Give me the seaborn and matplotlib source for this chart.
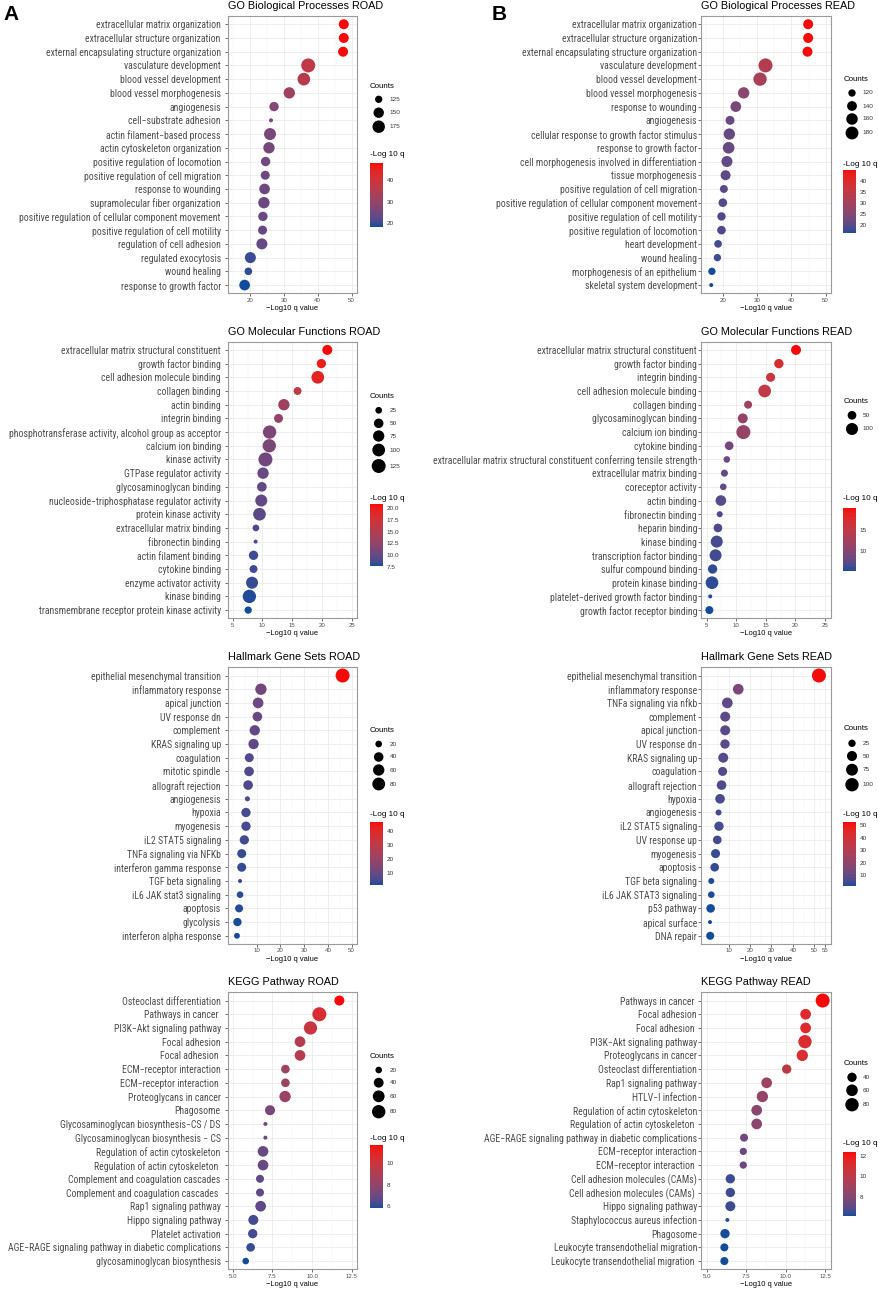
import os
import numpy as np
import pandas as pd
import matplotlib
matplotlib.use("Agg")
import matplotlib.pyplot as plt
import seaborn as sns
from matplotlib import font_manager as fm
from matplotlib.font_manager import FontProperties
from matplotlib.textpath import TextToPath
from matplotlib.colors import ListedColormap, Normalize, to_rgb
from matplotlib.cm import ScalarMappable

# ---------------------------------------------------------------- data
bp_road_terms = ["extracellular matrix organization", "extracellular structure organization",
                 "external encapsulating structure organization", "vasculature development",
                 "blood vessel development", "blood vessel morphogenesis", "angiogenesis",
                 "cell\u2212substrate adhesion", "actin filament\u2212based process",
                 "actin cytoskeleton organization", "positive regulation of locomotion",
                 "positive regulation of cell migration", "response to wounding",
                 "supramolecular fiber organization",
                 "positive regulation of cellular component movement",
                 "positive regulation of cell motility", "regulation of cell adhesion",
                 "regulated exocytosis", "wound healing", "response to growth factor"]
bp_road_q = [47.7, 47.7, 47.5, 37.2, 35.9, 31.6, 27.1, 26.2, 25.9, 25.6, 24.6, 24.5, 24.3,
             24.1, 23.8, 23.7, 23.5, 20.1, 19.5, 18.4]
bp_road_counts = [146, 146, 146, 199, 178, 161, 140, 116, 169, 161, 140, 137, 153, 161, 140,
                  137, 157, 157, 127, 153]
bp_road_breaks = [125, 150, 175]
bp_road_cticks = [20, 30, 40]
bp_road_xticks = [20, 30, 40, 50]

bp_read_terms = ["extracellular matrix organization", "extracellular structure organization",
                 "external encapsulating structure organization", "vasculature development",
                 "blood vessel development", "blood vessel morphogenesis", "response to wounding",
                 "angiogenesis", "cellular response to growth factor stimulus",
                 "response to growth factor", "cell morphogenesis involved in differentiation",
                 "tissue morphogenesis", "positive regulation of cell migration",
                 "positive regulation of cellular component movement",
                 "positive regulation of cell motility", "positive regulation of locomotion",
                 "heart development", "wound healing", "morphogenesis of an epithelium",
                 "skeletal system development"]
bp_read_q = [44.9, 44.9, 44.7, 32.4, 30.8, 26.0, 23.7, 22.0, 21.8, 21.6, 21.1, 20.7, 20.2,
             19.9, 19.5, 19.5, 18.5, 18.3, 16.7, 16.5]
bp_read_counts = [142, 142, 142, 199, 188, 158, 150, 132, 158, 162, 154, 142, 124, 129, 127,
                  129, 122, 120, 120, 110]
bp_read_breaks = [120, 140, 160, 180]
bp_read_cticks = [20, 25, 30, 35, 40]
bp_read_xticks = [20, 30, 40, 50]

mf_road_terms = ["extracellular matrix structural constituent", "growth factor binding",
                 "cell adhesion molecule binding", "collagen binding", "actin binding",
                 "integrin binding", "phosphotransferase activity, alcohol group as acceptor",
                 "calcium ion binding", "kinase activity", "GTPase regulator activity",
                 "glycosaminoglycan binding", "nucleoside\u2212triphosphatase regulator activity",
                 "protein kinase activity", "extracellular matrix binding", "fibronectin binding",
                 "actin filament binding", "cytokine binding", "enzyme activator activity",
                 "kinase binding", "transmembrane receptor protein kinase activity"]
mf_road_q = [20.9, 19.9, 19.3, 15.9, 13.6, 12.7, 11.2, 11.15, 10.5, 10.1, 9.9, 9.8, 9.5, 8.9,
             8.85, 8.5, 8.5, 8.25, 7.8, 7.6]
mf_road_counts = [56, 48, 99, 34, 76, 44, 112, 112, 126, 76, 52, 87, 99, 25, 17, 48, 34, 87,
                  112, 29]
mf_road_breaks = [25, 50, 75, 100, 125]
mf_road_cticks = [7.5, 10.0, 12.5, 15.0, 17.5, 20.0]
mf_road_xticks = [5, 10, 15, 20, 25]

mf_read_terms = ["extracellular matrix structural constituent", "growth factor binding",
                 "integrin binding", "cell adhesion molecule binding", "collagen binding",
                 "glycosaminoglycan binding", "calcium ion binding", "cytokine binding",
                 "extracellular matrix structural constituent conferring tensile strength",
                 "extracellular matrix binding", "coreceptor activity", "actin binding",
                 "fibronectin binding", "heparin binding", "kinase binding",
                 "transcription factor binding", "sulfur compound binding",
                 "protein kinase binding", "platelet\u2212derived growth factor binding",
                 "growth factor receptor binding"]
mf_read_q = [20.1, 17.2, 15.8, 14.8, 12.0, 11.1, 11.2, 8.8, 8.4, 8.0, 7.8, 7.4, 7.2, 6.9, 6.7,
             6.5, 6.0, 5.9, 5.6, 5.45]
mf_read_counts = [66, 58, 54, 113, 43, 66, 142, 50, 32, 35, 32, 76, 29, 50, 100, 100, 58, 113,
                  24, 43]
mf_read_breaks = [50, 100]
mf_read_cticks = [10, 15]
mf_read_xticks = [5, 10, 15, 20, 25]

hm_road_terms = ["epithelial mesenchymal transition", "inflammatory response", "apical junction",
                 "UV response dn", "complement", "KRAS signaling up", "coagulation",
                 "mitotic spindle", "allograft rejection", "angiogenesis", "hypoxia",
                 "myogenesis", "iL2 STAT5 signaling", "TNFa signaling via NFKb",
                 "interferon gamma response", "TGF beta signaling", "iL6 JAK stat3 signaling",
                 "apoptosis", "glycolysis", "interferon alpha response"]
hm_road_q = [46.2, 11.8, 10.6, 10.3, 9.2, 8.7, 6.9, 6.8, 6.4, 6.1, 5.5, 5.5, 4.8, 3.7, 3.7,
             3.0, 3.0, 2.6, 1.9, 1.7]
hm_road_counts = [99, 60, 52, 41, 48, 48, 35, 41, 41, 15, 38, 38, 38, 35, 35, 14, 20, 28, 30, 17]
hm_road_breaks = [20, 40, 60, 80]
hm_road_cticks = [10, 20, 30, 40]
hm_road_xticks = [10, 20, 30, 40, 50]

hm_read_terms = ["epithelial mesenchymal transition", "inflammatory response",
                 "TNFa signaling via nfkb", "complement", "apical junction", "UV response dn",
                 "KRAS signaling up", "coagulation", "allograft rejection", "hypoxia",
                 "angiogenesis", "iL2 STAT5 signaling", "UV response up", "myogenesis",
                 "apoptosis", "TGF beta signaling", "iL6 JAK STAT3 signaling", "p53 pathway",
                 "apical surface", "DNA repair"]
hm_read_q = [52.2, 14.5, 9.4, 8.4, 8.4, 8.3, 7.5, 7.2, 6.7, 6.0, 5.3, 5.5, 4.7, 3.9, 3.5, 1.9,
             1.9, 1.6, 1.3, 1.4]
hm_read_counts = [112, 58, 58, 49, 49, 42, 49, 39, 45, 45, 18, 42, 35, 39, 35, 18, 21, 35, 14, 30]
hm_read_breaks = [25, 50, 75, 100]
hm_read_cticks = [10, 20, 30, 40, 50]
hm_read_xticks = [10, 20, 30, 40, 50, 55]

kg_road_terms = ["Osteoclast differentiation", "Pathways in cancer ",
                 "PI3K\u2212Akt signaling pathway", "Focal adhesion", "Focal adhesion ",
                 "ECM\u2212receptor interaction", "ECM\u2212receptor interaction ",
                 "Proteoglycans in cancer", "Phagosome",
                 "Glycosaminoglycan biosynthesis\u2212CS / DS",
                 "Glycosaminoglycan biosynthesis \u2212 CS", "Regulation of actin cytoskeleton",
                 "Regulation of actin cytoskeleton ", "Complement and coagulation cascades",
                 "Complement and coagulation cascades ", "Rap1 signaling pathway",
                 "Hippo signaling pathway", "Platelet activation",
                 "AGE\u2212RAGE signaling pathway in diabetic complications",
                 "glycosaminoglycan biosynthesis"]
kg_road_q = [11.72, 10.46, 9.9, 9.24, 9.24, 8.32, 8.32, 8.3, 7.35, 7.06, 7.06, 6.91, 6.91, 6.72,
             6.72, 6.76, 6.3, 6.26, 6.13, 5.82]
kg_road_counts = [42, 89, 79, 48, 48, 31, 31, 55, 42, 15, 15, 48, 48, 27, 27, 48, 42, 36, 31, 20]
kg_road_breaks = [20, 40, 60, 80]
kg_road_cticks = [6, 8, 10]
kg_road_xticks = [5.0, 7.5, 10.0, 12.5]

kg_read_terms = ["Pathways in cancer ", "Focal adhesion", "Focal adhesion ",
                 "PI3K\u2212Akt signaling pathway", "Proteoglycans in cancer",
                 "Osteoclast differentiation", "Rap1 signaling pathway", "HTLV\u2212I infection",
                 "Regulation of actin cytoskeleton", "Regulation of actin cytoskeleton ",
                 "AGE\u2212RAGE signaling pathway in diabetic complications",
                 "ECM\u2212receptor interaction", "ECM\u2212receptor interaction ",
                 "Cell adhesion molecules (CAMs)", "Cell adhesion molecules (CAMs) ",
                 "Hippo signaling pathway", "Staphylococcus aureus infection", "Phagosome",
                 "Leukocyte transendothelial migration", "Leukocyte transendothelial migration "]
kg_read_q = [12.35, 11.27, 11.27, 11.23, 11.06, 10.07, 8.8, 8.53, 8.17, 8.17, 7.37, 7.32, 7.32,
             6.5, 6.5, 6.5, 6.31, 6.16, 6.12, 6.12]
kg_read_counts = [88, 51, 51, 79, 57, 40, 51, 57, 51, 51, 32, 28, 28, 40, 40, 45, 21, 40, 32, 32]
kg_read_breaks = [40, 60, 80]
kg_read_cticks = [8, 10, 12]
kg_read_xticks = [5.0, 7.5, 10.0, 12.5]

# ---------------------------------------------------------------- style
sns.set_theme(style="white")
SANS = ["Liberation Sans", "DejaVu Sans"]
plt.rcParams["font.family"] = SANS

W, H = 879, 1291
LOW, HIGH = "#124C9A", "#F50A0A"
GREY30 = "#4D4D4D"


def _is_regular(f):
    w = f.weight
    if isinstance(w, str):
        ok_w = w.lower() in ("normal", "regular", "book", "400", "medium")
    else:
        ok_w = 380 <= int(w) <= 450
    base = os.path.basename(f.fname).lower()
    bad = any(k in base for k in ("bold", "italic", "oblique", "light", "thin", "black",
                                  "semibold", "medium", "extrabold"))
    return ok_w and f.style == "normal" and not bad


def find_narrow_font():
    entries = [f for f in fm.fontManager.ttflist if _is_regular(f)]
    prefs = ["Liberation Sans Narrow", "Arial Narrow", "Roboto Condensed",
             "Noto Sans Condensed", "Open Sans Condensed", "DejaVu Sans Condensed"]
    for name in prefs:
        for f in entries:
            if f.name == name:
                return f.fname
    for key in ("narrow", "semicondensed", "condensed"):
        for f in entries:
            base = os.path.basename(f.fname).lower()
            if key in base or key in f.name.lower().replace(" ", "") or \
                    (isinstance(f.stretch, str) and key in f.stretch.replace("-", "")):
                return f.fname
    return None


_narrow = find_narrow_font()
if _narrow is not None:
    NARROW_FP = FontProperties(fname=_narrow)
else:
    NARROW_FP = FontProperties(family=SANS)

# fit the label size so that a reference string spans its width in the figure
_ttp = TextToPath()
_fp100 = NARROW_FP.copy()
_fp100.set_size(100)
_w100 = _ttp.get_text_width_height_descent("extracellular matrix organization", _fp100,
                                            ismath=False)[0]
LABEL_SIZE = min(7.8, 100 * 124.7 * 0.72 / _w100)
LABEL_FP = NARROW_FP.copy()
LABEL_FP.set_size(LABEL_SIZE)

_M = np.array([[0.4124564, 0.3575761, 0.1804375],
               [0.2126729, 0.7151522, 0.0721750],
               [0.0193339, 0.1191920, 0.9503041]])
_WP = np.array([0.95047, 1.0, 1.08883])


def to_lab(rgb):
    rgb = np.asarray(rgb, float)
    lin = np.where(rgb <= 0.04045, rgb / 12.92, ((rgb + 0.055) / 1.055) ** 2.4)
    xyz = _M @ lin / _WP
    f = np.where(xyz > 0.008856, np.cbrt(xyz), 7.787 * xyz + 16 / 116)
    return np.array([116 * f[1] - 16, 500 * (f[0] - f[1]), 200 * (f[1] - f[2])])


def from_lab(lab):
    L, a, b = lab
    fy = (L + 16) / 116
    f = np.array([fy + a / 500, fy, fy - b / 200])
    xyz = np.where(f ** 3 > 0.008856, f ** 3, (f - 16 / 116) / 7.787) * _WP
    lin = np.clip(np.linalg.inv(_M) @ xyz, 0, 1)
    rgb = np.where(lin <= 0.0031308, 12.92 * lin, 1.055 * lin ** (1 / 2.4) - 0.055)
    return np.clip(rgb, 0, 1)


def lab_cmap(c0, c1, n=256):
    l0, l1 = to_lab(to_rgb(c0)), to_lab(to_rgb(c1))
    cols = [from_lab(l0 + (l1 - l0) * t) for t in np.linspace(0, 1, n)]
    return ListedColormap(cols)


CMAP = lab_cmap(LOW, HIGH)


def dot_px(c, cmin, cmax):
    return 4.0 + 10.0 * np.sqrt((c - cmin) / (cmax - cmin))


def dot_s(c, cmin, cmax):
    return (dot_px(c, cmin, cmax) * 0.72) ** 2


def px_rect(l, t, r, b):
    return [l / W, 1 - b / H, (r - l) / W, (b - t) / H]


def minor_breaks(major, lo, hi):
    b = list(major)
    d = b[1] - b[0]
    if lo < b[0]:
        b = [b[0] - d] + b
    if hi > b[-1]:
        b = b + [b[-1] + d]
    out = []
    for a, c in zip(b[:-1], b[1:]):
        out += [a, (a + c) / 2]
    out.append(b[-1])
    return [m for m in out if lo <= m <= hi and m not in major]


# ---------------------------------------------------------------- layout
COLS = {"A": dict(ax=(227.7, 357.3), leg_x=370.0, ypad=3.0),
        "B": dict(ax=(701.0, 830.7), leg_x=843.3, ypad=0.8)}
ROWS = [(16.0, 293.3), (341.7, 618.3), (667.3, 944.0), (992.3, 1269.3)]

PANELS = [
    dict(col="A", row=0, title="GO Biological Processes ROAD", terms=bp_road_terms, q=bp_road_q,
         counts=bp_road_counts, breaks=bp_road_breaks, cticks=bp_road_cticks, cfmt="{:g}",
         xticks=bp_road_xticks, xfmt="{:g}", xlim=(13.4, 51.7),
         leg=dict(t=86, e=[99.3, 112.7, 126.7], ct=154, cb=(163.3, 226.7))),
    dict(col="B", row=0, title="GO Biological Processes READ", terms=bp_read_terms, q=bp_read_q,
         counts=bp_read_counts, breaks=bp_read_breaks, cticks=bp_read_cticks, cfmt="{:g}",
         xticks=bp_read_xticks, xfmt="{:g}", xlim=(13.5, 51.5),
         leg=dict(t=79.3, e=[93, 106, 119, 133], ct=164.3, cb=(170, 233.3))),
    dict(col="A", row=1, title="GO Molecular Functions ROAD", terms=mf_road_terms, q=mf_road_q,
         counts=mf_road_counts, breaks=mf_road_breaks, cticks=mf_road_cticks, cfmt="{:.1f}",
         xticks=mf_road_xticks, xfmt="{:g}", xlim=(4.16, 25.94),
         leg=dict(t=396.7, e=[410.3, 423.3, 436, 450, 466], ct=498.3, cb=(504.3, 566.7))),
    dict(col="B", row=1, title="GO Molecular Functions READ", terms=mf_read_terms, q=mf_read_q,
         counts=mf_read_counts, breaks=mf_read_breaks, cticks=mf_read_cticks, cfmt="{:g}",
         xticks=mf_read_xticks, xfmt="{:g}", xlim=(4.04, 25.96),
         leg=dict(t=401.3, e=[415.3, 429], ct=498.3, cb=(507.7, 571))),
    dict(col="A", row=2, title="Hallmark Gene Sets ROAD", terms=hm_road_terms, q=hm_road_q,
         counts=hm_road_counts, breaks=hm_road_breaks, cticks=hm_road_cticks, cfmt="{:g}",
         xticks=hm_road_xticks, xfmt="{:g}", xlim=(-2.2, 52.4),
         leg=dict(t=730, e=[744, 757, 770, 784], ct=814, cb=(821.7, 885))),
    dict(col="B", row=2, title="Hallmark Gene Sets READ", terms=hm_read_terms, q=hm_read_q,
         counts=hm_read_counts, breaks=hm_read_breaks, cticks=hm_read_cticks, cfmt="{:g}",
         xticks=hm_read_xticks, xfmt="{:g}", xlim=(-2.9, 57.7),
         leg=dict(t=729, e=[743.3, 756, 769.7, 784.7], ct=814, cb=(822.3, 886))),
    dict(col="A", row=3, title="KEGG Pathway ROAD", terms=kg_road_terms, q=kg_road_q,
         counts=kg_road_counts, breaks=kg_road_breaks, cticks=kg_road_cticks, cfmt="{:g}",
         xticks=kg_road_xticks, xfmt="{:.1f}", xlim=(4.685, 12.85),
         leg=dict(t=1056, e=[1070, 1082.7, 1096.3, 1111.7], ct=1139, cb=(1145, 1208.3))),
    dict(col="B", row=3, title="KEGG Pathway READ", terms=kg_read_terms, q=kg_read_q,
         counts=kg_read_counts, breaks=kg_read_breaks, cticks=kg_read_cticks, cfmt="{:g}",
         xticks=kg_read_xticks, xfmt="{:.1f}", xlim=(4.64, 12.86),
         leg=dict(t=1063.3, e=[1077.3, 1090.3, 1104.7], ct=1143.3, cb=(1152.3, 1216))),
]

# ---------------------------------------------------------------- draw
fig = plt.figure(figsize=(W / 100, H / 100), dpi=100)
ov = fig.add_axes([0, 0, 1, 1])
ov.set_xlim(0, W)
ov.set_ylim(H, 0)
ov.axis("off")

ov.text(3, 19.5, "A", fontsize=15, fontweight="bold", color="black", va="baseline", ha="left")
ov.text(491.5, 19.5, "B", fontsize=15, fontweight="bold", color="black", va="baseline", ha="left")

for p in PANELS:
    col = COLS[p["col"]]
    top, bot = ROWS[p["row"]]
    l, r = col["ax"]
    ax = fig.add_axes(px_rect(l, top, r, bot))
    df = pd.DataFrame({"term": p["terms"], "q": p["q"], "count": p["counts"]})
    n = len(df)
    cmin, cmax = min(p["counts"]), max(p["counts"])
    size_map = {c: dot_s(c, cmin, cmax) for c in sorted(set(p["counts"]))}
    norm = Normalize(vmin=min(p["q"]), vmax=max(p["q"]))

    sns.scatterplot(data=df, x="q", y="term", hue="q", palette=CMAP, hue_norm=norm,
                    size="count", sizes=size_map, legend=False, edgecolor="none",
                    linewidth=0, ax=ax, zorder=3)

    ax.set_xlim(*p["xlim"])
    ax.set_ylim(n - 1 + 0.6, -0.6)
    ax.set_xticks(p["xticks"])
    ax.set_xticklabels([p["xfmt"].format(v) for v in p["xticks"]], fontsize=4.4, color=GREY30)
    ax.set_xticks(minor_breaks(p["xticks"], *p["xlim"]), minor=True)
    ax.set_yticks(range(n))
    ax.set_yticklabels(p["terms"], fontproperties=LABEL_FP, color=GREY30)
    ax.tick_params(axis="both", which="major", length=2.0, width=0.5, color="#333333",
                   bottom=True, left=True)
    ax.tick_params(axis="y", which="major", pad=col["ypad"])
    ax.tick_params(axis="x", which="major", pad=1.2)
    ax.tick_params(which="minor", length=0)
    ax.grid(True, which="major", color="#EBEBEB", linewidth=0.6)
    ax.grid(True, which="minor", axis="x", color="#F1F1F1", linewidth=0.35)
    ax.set_axisbelow(True)
    ax.set_facecolor("white")
    for sp in ax.spines.values():
        sp.set_visible(True)
        sp.set_color("#9A9A9A")
        sp.set_linewidth(0.8)
    ax.set_xlabel("\u2212Log10 q value", fontsize=5.4, labelpad=1.5, color="black")
    ax.set_ylabel("")
    ax.set_title(p["title"], loc="left", fontsize=7.85, pad=5, color="black")

    # size legend
    lg = p["leg"]
    lx = col["leg_x"]
    ov.text(lx, lg["t"], "Counts", fontsize=5.7, color="black", va="center", ha="left")
    for val, y in zip(p["breaks"], lg["e"]):
        ov.scatter([lx + 8.7], [y], s=dot_s(val, cmin, cmax), color="black",
                   edgecolors="none")
        ov.text(lx + 19.5, y, str(val), fontsize=4.6, color="#333333", va="center",
                ha="left")

    # colour bar
    ov.text(lx, lg["ct"], "-Log 10 q", fontsize=5.85, color="black", va="center", ha="left")
    cax = fig.add_axes(px_rect(lx, lg["cb"][0], lx + 12.5, lg["cb"][1]))
    cb = fig.colorbar(ScalarMappable(norm=norm, cmap=CMAP), cax=cax)
    cb.outline.set_visible(False)
    cb.set_ticks(p["cticks"])
    cb.set_ticklabels([p["cfmt"].format(v) for v in p["cticks"]])
    cax.tick_params(axis="y", which="major", direction="in", length=2.5, width=0.6,
                    color="white", labelsize=4.6, labelcolor="#333333", pad=3,
                    left=True, right=True)
    cax.tick_params(which="minor", length=0)

fig.savefig("out.png", dpi=100)
